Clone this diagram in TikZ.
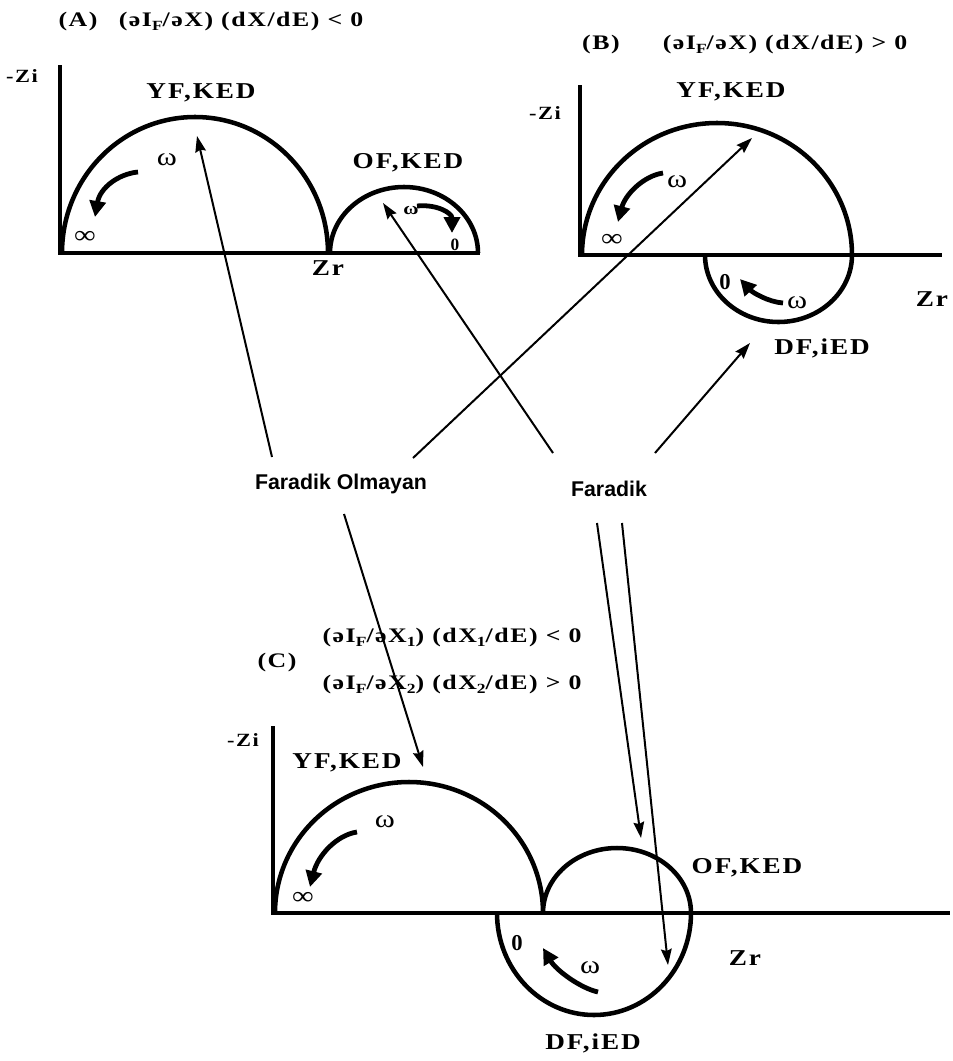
\documentclass[tikz,border=0pt]{standalone}
\usepackage{graphicx}
\usepackage{fontspec}
\setmainfont{Liberation Serif}
\newfontfamily\labfont[LetterSpace=7]{Liberation Serif}
\newfontfamily\titfont[LetterSpace=6]{Liberation Serif}
\newfontfamily\sansbold{Liberation Sans}
\usetikzlibrary{arrows.meta}
\newcommand\mysub[1]{\raisebox{-0.35ex}{\fontsize{10.5pt}{10.5pt}\selectfont #1}}
\newcommand\wid[1]{\scalebox{1.2}[1]{#1}}
\newcommand\widt[1]{\scalebox{1.25}[1]{#1}}
\begin{document}
\begin{tikzpicture}[x=0.75pt,y=-0.75pt,
  curve/.style={line width=3.4pt},
  axis/.style={line width=3pt,line join=miter},
  longarr/.style={line width=1.5pt,-{Stealth[length=12pt,width=8pt,inset=1.5pt]}},
  warr/.style={line width=3.6pt,-{Triangle[length=12pt,width=12pt]}},
  lab/.style={font=\labfont\bfseries\fontsize{17pt}{19pt}\selectfont,inner sep=0pt},
  sym/.style={font=\labfont\fontsize{19pt}{21pt}\selectfont,inner sep=0pt},
  small/.style={font=\labfont\bfseries\fontsize{14pt}{16pt}\selectfont,inner sep=0pt},
  smallb/.style={font=\labfont\bfseries\fontsize{13pt}{15pt}\selectfont,inner sep=0pt},
  titb/.style={font=\titfont\bfseries\fontsize{15.5pt}{18pt}\selectfont,inner sep=0pt},
  sans/.style={font=\sansbold\bfseries\fontsize{16pt}{18pt}\selectfont,inner sep=0pt}]
\useasboundingbox (0,0) rectangle (953,1061);
\fill[white] (0,0) rectangle (953,1061);

% ---------- Panel A ----------
\node[titb] (Alab) at (78,22) {\widt{(A)}};
\node[titb] (Aeq) at (241,22) {\widt{(əI\mysub{F}/əX) (dX/dE) < 0}};
\node[small] (AZi) at (22,76) {\wid{-Zi}};
\draw[axis] (60,65) -- (60,253) -- (480,253);
\draw[curve] (62,253) arc[start angle=180,end angle=360,x radius=133,y radius=136];
\draw[curve] (330,253) arc[start angle=180,end angle=360,x radius=74,y radius=66];
\node[lab] (AYF) at (201,93) {\wid{YF,KED}};
\node[lab] (AOF) at (408,163) {\wid{OF,KED}};
\node[sym] (Aw1) at (167,160) {\wid{ω}};
\node[sym] (Ainf) at (85,237) {\wid{∞}};
\node[smallb] (Aw2) at (411,210) {\wid{ω}};
\node[smallb] (A0) at (455,245) {0};
\node[lab] (AZr) at (328,268) {\wid{Zr}};
\draw[warr] (138,172) .. controls (118,174) and (100,188) .. (95,217);
\draw[warr] (417,206) .. controls (437,204) and (452,213) .. (452,233);

% ---------- Panel B ----------
\node[titb] (Blab) at (601,45) {\widt{(B)}};
\node[titb] (Beq) at (785,45) {\widt{(əI\mysub{F}/əX) (dX/dE) > 0}};
\node[small] (BZi) at (545,113) {\wid{-Zi}};
\draw[axis] (580,85) -- (580,255) -- (942,255);
\draw[curve] (582,255) arc[start angle=180,end angle=360,x radius=135,y radius=132]
  arc[start angle=0,end angle=180,x radius=73.5,y radius=67];
\node[lab] (BYF) at (731,92) {\wid{YF,KED}};
\node[sym] (Bw1) at (677,182) {\wid{ω}};
\node[sym] (Binf) at (612,240) {\wid{∞}};
\node[lab] (B0) at (725,282) {0};
\node[sym] (Bw2) at (797,303) {\wid{ω}};
\node[lab] (BZr) at (932,299) {\wid{Zr}};
\node[lab] (BDF) at (822,348) {\wid{DF,iED}};
\draw[warr] (663,173) .. controls (643,176) and (625,195) .. (618,222);
\draw[warr] (783,303) .. controls (768,302) and (752,292) .. (740,279);

% ---------- Panel C ----------
\node[titb] (Ceq1) at (452,638) {\widt{(əI\mysub{F}/əX\mysub{1}) (dX\mysub{1}/dE) < 0}};
\node[titb] (Clab) at (277,663) {\widt{(C)}};
\node[titb] (Ceq2) at (452,685) {\widt{(əI\mysub{F}/əX\mysub{2}) (dX\mysub{2}/dE) > 0}};
\node[small] (CZi) at (243,740) {\wid{-Zi}};
\draw[axis] (273,726) -- (273,913) -- (950,913);
\draw[curve] (275,913) arc[start angle=180,end angle=360,x radius=134,y radius=131]
  arc[start angle=180,end angle=360,x radius=74,y radius=65]
  arc[start angle=0,end angle=180,x radius=97,y radius=102];
\node[lab] (CYF) at (347,763) {\wid{YF,KED}};
\node[sym] (Cw1) at (385,822) {\wid{ω}};
\node[sym] (Cinf) at (303,898) {\wid{∞}};
\node[lab] (COF) at (747,868) {\wid{OF,KED}};
\node[lab] (C0) at (517,943) {0};
\node[sym] (Cw2) at (590,968) {\wid{ω}};
\node[lab] (CZr) at (745,958) {\wid{Zr}};
\node[lab] (CDF) at (593,1043) {\wid{DF,iED}};
\draw[warr] (357,832) .. controls (337,835) and (318,855) .. (310,887);
\draw[warr] (598,992) .. controls (580,988) and (556,970) .. (543,948);

% ---------- Centre labels and connectors ----------
\node[sans] (FO) at (341,484) {Faradik Olmayan};
\node[sans] (FA) at (609,489) {Faradik};
\coordinate (fo1) at (272,457);
\coordinate (fo2) at (413,458);
\coordinate (fo3) at (344,514);
\coordinate (fa1) at (553,453);
\coordinate (fa2) at (655,453);
\coordinate (fa3) at (597,523);
\coordinate (fa4) at (622,523);
\coordinate (tAYF) at (197,136);
\coordinate (tB) at (752,138);
\coordinate (tAOF) at (383,203);
\coordinate (tBDF) at (750,343);
\coordinate (tCYF) at (423,767);
\coordinate (tCOF) at (641,838);
\coordinate (tCDF) at (668,965);
\draw[longarr] (fo1) -- (tAYF);
\draw[longarr] (fo2) -- (tB);
\draw[longarr] (fo3) -- (tCYF);
\draw[longarr] (fa1) -- (tAOF);
\draw[longarr] (fa2) -- (tBDF);
\draw[longarr] (fa3) -- (tCOF);
\draw[longarr] (fa4) -- (tCDF);
\end{tikzpicture}
\end{document}
